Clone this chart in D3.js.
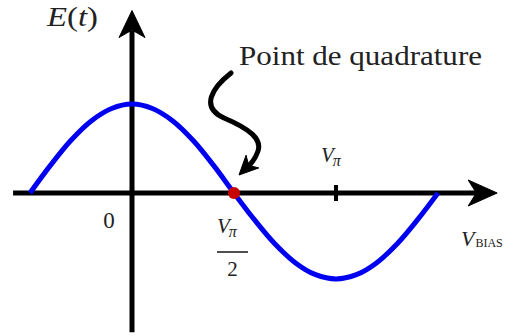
<!DOCTYPE html>
<html><head>
<script src="https://cdn.jsdelivr.net/npm/d3@7/dist/d3.min.js"></script>
</head>
<body style="margin:0;background:#fff">
<script>
// Bias voltage in units of V_pi, and field E(t)
const vbias = [-0.5,-0.4,-0.3,-0.2,-0.1,0,0.1,0.2,0.3,0.4,0.5,0.6,0.7,0.8,0.9,1.0,1.1,1.2,1.3,1.4,1.5];
const efield = [0,0.31,0.59,0.81,0.95,1,0.95,0.81,0.59,0.31,0,-0.31,-0.59,-0.81,-0.95,-1,-0.95,-0.81,-0.59,-0.31,0];
const quadrature = [{v:0.5, e:0}];
const tickValues = [1];
const axisX = [-0.583, 1.79];
const axisY = [-1.62, 2.05];

const W = 515, H = 336;
const svg = d3.select("body").append("svg").attr("width", W).attr("height", H)
  .attr("style", "display:block;font-family:serif");

const x = d3.scaleLinear().domain([0, 1]).range([132, 336]);
const yy = d3.scaleLinear().domain([-1, 0, 1]).range([279, 193, 104]).clamp(false);

function arrowHead(g, tx, ty, angle, L, Wd) {
  const a = angle * Math.PI / 180;
  const pts = [[0,0],[-L,-Wd],[-0.72*L,0],[-L,Wd]].map(([px,py]) =>
    [tx + px*Math.cos(a) - py*Math.sin(a), ty + px*Math.sin(a) + py*Math.cos(a)]);
  g.append("path").attr("d", "M" + pts.map(p => p.join(",")).join("L") + "Z")
    .attr("fill", "#000").attr("stroke", "#000").attr("stroke-width", 1).attr("stroke-linejoin","round");
}

// Axes
svg.append("line").attr("x1", x(axisX[0])).attr("x2", x(axisX[1]) - 20)
  .attr("y1", yy(0)).attr("y2", yy(0)).attr("stroke", "#000").attr("stroke-width", 5);
arrowHead(svg, x(axisX[1]), yy(0), 0, 29, 13);
svg.append("line").attr("x1", x(0)).attr("x2", x(0))
  .attr("y1", yy(axisY[0])).attr("y2", yy(axisY[1]) + 20).attr("stroke", "#000").attr("stroke-width", 5);
arrowHead(svg, x(0), yy(axisY[1]), -90, 27, 13);

// Tick at V_pi
svg.selectAll(".tick").data(tickValues).enter().append("line")
  .attr("x1", d => x(d)).attr("x2", d => x(d)).attr("y1", yy(0) - 8).attr("y2", yy(0) + 8)
  .attr("stroke", "#000").attr("stroke-width", 4);

// Curve
const line = d3.line().x(d => x(d[0])).y(d => yy(d[1])).curve(d3.curveCatmullRom);
svg.append("path").datum(vbias.map((v, i) => [v, efield[i]]))
  .attr("d", line).attr("fill", "none").attr("stroke", "#0000f0").attr("stroke-width", 5);

// Squiggle arrow
svg.append("path")
  .attr("d", "M231,73 C212,88 200,107 224,118 C250,129 262,139 258,151 C255,160 250,165 246,168")
  .attr("fill", "none").attr("stroke", "#000").attr("stroke-width", 5).attr("stroke-linecap", "round");
arrowHead(svg, 239, 175, 135, 19, 9);

// Quadrature point
svg.selectAll(".q").data(quadrature).enter().append("circle")
  .attr("cx", d => x(d.v)).attr("cy", d => yy(d.e)).attr("r", 6).attr("fill", "#c80000");

function txt(xp, yb, size) {
  return svg.append("text").attr("x", xp).attr("y", yb)
    .attr("style", "font-family:'Liberation Serif',serif;font-size:" + size + "px;fill:#222");
}

// Labels
const et = txt(47, 26, 28).attr("textLength", 51).attr("lengthAdjust", "spacingAndGlyphs");
et.append("tspan").attr("font-style", "italic").text("E");
et.append("tspan").text("(");
et.append("tspan").attr("font-style", "italic").text("t");
et.append("tspan").text(")");

txt(239, 65, 28).attr("textLength", 243).attr("lengthAdjust", "spacingAndGlyphs").text("Point de quadrature");

txt(109, 228, 23).attr("text-anchor", "middle").text("0");

function vpi(xp, yb) {
  const t = txt(xp, yb, 21);
  t.append("tspan").attr("font-style", "italic").text("V");
  t.append("tspan").attr("font-style", "italic").attr("style", "font-size:16px").attr("dy", 4).attr("dx", -1).text("π");
}
vpi(321, 162);
vpi(217, 233);
svg.append("line").attr("x1", 217).attr("x2", 248).attr("y1", 252).attr("y2", 252)
  .attr("stroke", "#222").attr("stroke-width", 1.6);
txt(232.5, 276, 21).attr("text-anchor", "middle").text("2");

const vb = txt(461, 246, 22);
vb.append("tspan").attr("font-style", "italic").text("V");
vb.append("tspan").attr("style", "font-size:12px").attr("dy", 1).attr("dx", 1).text("BIAS");
</script>
</body></html>
